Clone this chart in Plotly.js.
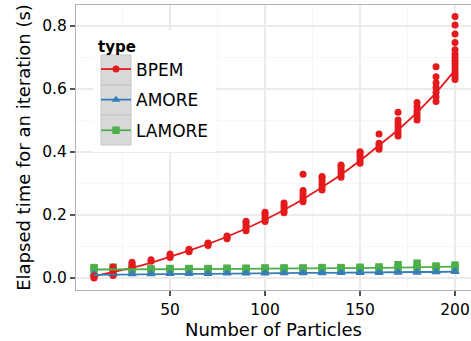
<!DOCTYPE html>
<html>
<head>
<meta charset="utf-8">
<script src="https://cdn.plot.ly/plotly-3.0.1.min.js"></script>
<style>html,body{margin:0;padding:0;background:#fff;}#chart{width:471px;height:341px;}</style>
</head>
<body>
<div id="chart"></div>
<script>
// ---- data ----
const xVals = [10,20,30,40,50,60,70,80,90,100,110,120,130,140,150,160,170,180,190,200];

const seriesNames = ['BPEM','AMORE','LAMORE'];

const bpemRuns = [
  [0.000,0.003,0.006],
  [0.008,0.015,0.025,0.035],
  [0.040,0.045,0.050],
  [0.053,0.058],
  [0.065,0.070,0.076],
  [0.083,0.088,0.091],
  [0.103,0.108,0.111],
  [0.125,0.129,0.133],
  [0.150,0.158,0.166,0.175,0.180],
  [0.179,0.186,0.194,0.202,0.209],
  [0.207,0.214,0.222,0.230,0.238],
  [0.242,0.250,0.258,0.268,0.278,0.329],
  [0.279,0.288,0.298,0.308,0.318,0.322],
  [0.320,0.328,0.337,0.346,0.355,0.359],
  [0.364,0.372,0.381,0.390,0.398,0.401],
  [0.409,0.415,0.422,0.428,0.457],
  [0.451,0.460,0.470,0.480,0.490,0.502,0.526],
  [0.502,0.512,0.522,0.532,0.544,0.557],
  [0.560,0.575,0.590,0.605,0.620,0.639,0.671],
  [0.630,0.640,0.650,0.660,0.670,0.680,0.690,0.700,0.710,0.725,0.748,0.775,0.803,0.830]
];
const bpemMean = [0.006,0.018,0.032,0.048,0.067,0.087,0.108,0.131,0.157,0.185,0.216,0.250,0.288,0.328,0.372,0.420,0.470,0.525,0.588,0.660];

const amoreRuns = [
  [0.011,0.014],[0.012,0.014],[0.012,0.015],[0.012,0.015],[0.013,0.015],
  [0.013,0.016],[0.013,0.016],[0.014,0.016],[0.014,0.017],[0.014,0.017],
  [0.015,0.017],[0.015,0.018],[0.015,0.018],[0.016,0.018],[0.016,0.019],
  [0.016,0.019],[0.017,0.020],[0.017,0.020],[0.018,0.021],[0.019,0.022]
];
const amoreMean = [0.010,0.011,0.011,0.012,0.012,0.013,0.013,0.014,0.014,0.015,0.015,0.016,0.016,0.017,0.017,0.018,0.018,0.019,0.019,0.020];

const lamoreRuns = [
  [0.025,0.033],[0.024,0.034],[0.026,0.029],[0.026,0.029],[0.026,0.030],
  [0.027,0.030],[0.027,0.030],[0.028,0.031],[0.028,0.031],[0.028,0.032],
  [0.029,0.032],[0.029,0.032],[0.029,0.033],[0.030,0.033],[0.030,0.034],
  [0.031,0.035],[0.031,0.042],[0.032,0.047],[0.032,0.038],[0.033,0.041]
];
const lamoreMean = [0.027,0.027,0.027,0.028,0.028,0.028,0.029,0.029,0.029,0.030,0.030,0.030,0.031,0.031,0.032,0.032,0.033,0.034,0.035,0.036];

const xTickVals = [50,100,150,200];
const yTickVals = [0,0.2,0.4,0.6,0.8];
const yTickText = ['0.0','0.2','0.4','0.6','0.8'];

// ---- styles ----
const colors = {BPEM:'#E41A1C', AMORE:'#377EB8', LAMORE:'#4DAF4A'};
const symbols = {BPEM:'circle', AMORE:'triangle-up', LAMORE:'square'};
const sizes = {BPEM:7, AMORE:8, LAMORE:7.5};
const FONT = 'DejaVu Sans, Liberation Sans, Arial, sans-serif';

// points: separated by nulls so the line style only shows in the legend
function pointTrace(name, runs, rank){
  const x = [], y = [];
  runs.forEach((vals, i) => vals.forEach(v => { x.push(xVals[i]); y.push(v); x.push(null); y.push(null); }));
  return {
    type:'scatter', mode:'lines+markers', name:name, x:x, y:y, connectgaps:false,
    legendgroup:name, legendrank:rank,
    line:{color:colors[name], width:1.8},
    marker:{color:colors[name], symbol:symbols[name], size:sizes[name], line:{width:0}},
    hoverinfo:'skip'
  };
}
function lineTrace(name, mean){
  return {
    type:'scatter', mode:'lines', name:name, x:xVals, y:mean, showlegend:false,
    legendgroup:name, line:{color:colors[name], width:1.8}, hoverinfo:'skip'
  };
}

const data = [
  pointTrace('LAMORE', lamoreRuns, 3),
  pointTrace('AMORE', amoreRuns, 2),
  pointTrace('BPEM', bpemRuns, 1),
  lineTrace('BPEM', bpemMean),
  lineTrace('AMORE', amoreMean),
  lineTrace('LAMORE', lamoreMean)
];

// legend box geometry in pixels (plot area: x 76..471, y 5..290)
const L = 76, W = 395, T = 5, H = 285;
const px = v => (v - L) / W;
const py = v => (T + H - v) / H;
function rect(x0,y0,x1,y1,fill,line){
  return {type:'rect', xref:'paper', yref:'paper', x0:px(x0), x1:px(x1), y0:py(y1), y1:py(y0),
          fillcolor:fill, line:{color:line||fill, width:line?1:0}, layer:'above'};
}
const shapes = [
  rect(93,30,216,152,'#FFFFFF'),
  rect(101,55,131,85,'#D9D9D9','#C6C6C6'),
  rect(101,85,131,115,'#D9D9D9','#C6C6C6'),
  rect(101,115,131,145,'#D9D9D9','#C6C6C6')
];

const layout = {
  width:471, height:341,
  margin:{l:76, r:0, t:5, b:51},
  paper_bgcolor:'#FFFFFF', plot_bgcolor:'#FFFFFF',
  font:{family:FONT, color:'#000000'},
  showlegend:true,
  xaxis:{
    range:[0.5,208.4], tickvals:xTickVals, ticks:'outside', ticklen:5, tickwidth:1.2, tickcolor:'#555555',
    showline:true, mirror:true, linecolor:'#B3B3B3', linewidth:1,
    showgrid:true, gridcolor:'#EBEBEB', gridwidth:1.2, zeroline:false,
    minor:{tick0:25, dtick:50, showgrid:true, gridcolor:'#F6F6F6', gridwidth:1},
    tickfont:{family:FONT, size:15.5, color:'#000000'},
    title:{text:'Number of Particles', font:{family:FONT, size:18, color:'#000000'}, standoff:5}
  },
  yaxis:{
    range:[-0.0381,0.8667], tickvals:yTickVals, ticktext:yTickText, ticks:'outside', ticklen:5, tickwidth:1.2, tickcolor:'#555555',
    showline:true, mirror:true, linecolor:'#B3B3B3', linewidth:1,
    showgrid:true, gridcolor:'#EBEBEB', gridwidth:1.2, zeroline:false,
    minor:{tick0:0.1, dtick:0.2, showgrid:true, gridcolor:'#F6F6F6', gridwidth:1},
    tickfont:{family:FONT, size:15.5, color:'#000000'},
    title:{text:'Elapsed time for an iteration (s)', font:{family:FONT, size:18, color:'#000000'}, standoff:6}
  },
  legend:{
    x:px(96), y:py(32), xanchor:'left', yanchor:'top',
    bgcolor:'rgba(0,0,0,0)', borderwidth:0,
    font:{family:FONT, size:17, color:'#000000'},
    title:{text:'<b>type</b>', font:{family:FONT, size:15, color:'#000000'}},
    traceorder:'grouped', tracegroupgap:5.5, itemwidth:30, itemclick:false, itemdoubleclick:false
  },
  shapes:shapes
};

Plotly.newPlot('chart', data, layout, {staticPlot:true, displayModeBar:false});
</script>
</body>
</html>
